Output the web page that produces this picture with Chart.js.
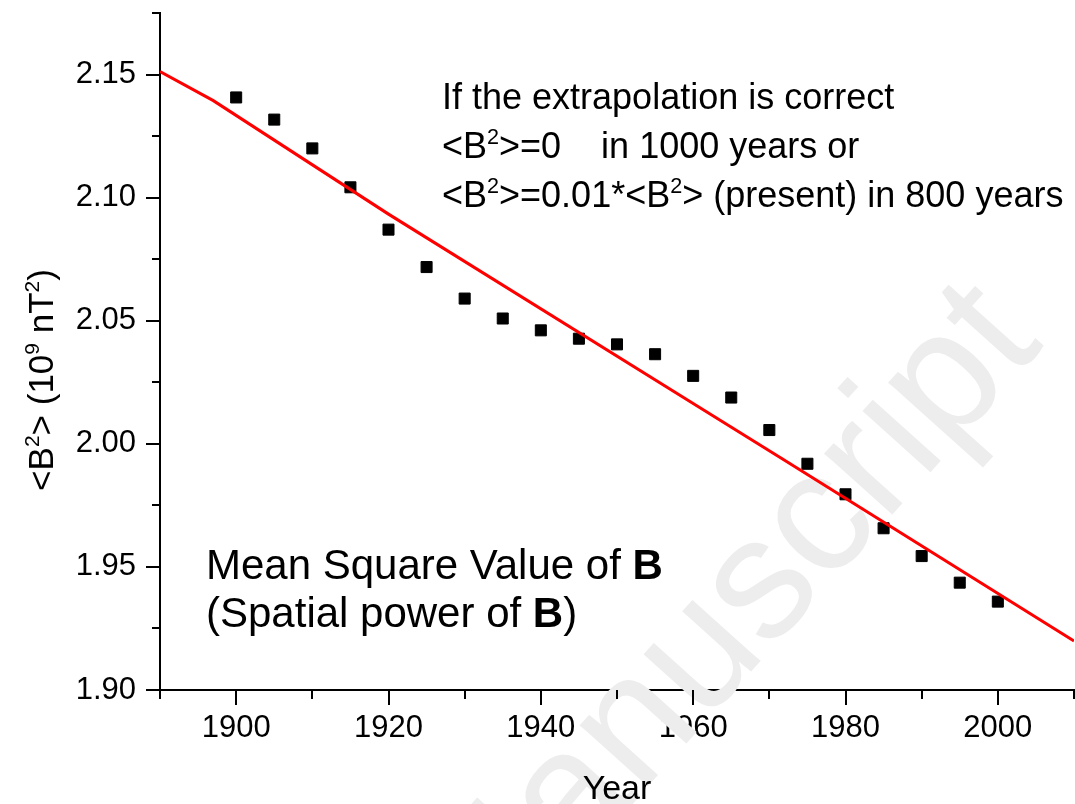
<!DOCTYPE html>
<html>
<head>
<meta charset="utf-8">
<script src="https://cdn.jsdelivr.net/npm/chart.js@4.4.1/dist/chart.umd.min.js"></script>
<style>
  html, body { margin: 0; padding: 0; background: #ffffff; }
  canvas { display: block; }
</style>
</head>
<body>
<canvas id="c" width="1075" height="804"></canvas>
<script>
// ---- data ----
const years = [1900, 1905, 1910, 1915, 1920, 1925, 1930, 1935, 1940, 1945, 1950,
               1955, 1960, 1965, 1970, 1975, 1980, 1985, 1990, 1995, 2000];
const meanSquareB = [2.1407, 2.1317, 2.1200, 2.1042, 2.0870, 2.0718, 2.0590, 2.0509, 2.0461, 2.0427, 2.0404,
                     2.0364, 2.0276, 2.0188, 2.0056, 1.9919, 1.9795, 1.9657, 1.9544, 1.9436, 1.9359];
const fitYears = [1890, 1897, 1920, 1960, 1972, 2010];
const fitValues = [2.1512, 2.1394, 2.0933, 2.0164, 1.9933, 1.9199];
const xTickLabels = ['1900', '1920', '1940', '1960', '1980', '2000'];
const yTickLabels = ['1.90', '1.95', '2.00', '2.05', '2.10', '2.15'];
const xTitle = 'Year';
const yTitle = [{t: '<B'}, {t: '2', sup: true}, {t: '> (10'}, {t: '9', sup: true}, {t: ' nT'}, {t: '2', sup: true}, {t: ')'}];
const noteLines = [
  [{t: 'If the extrapolation is correct'}],
  [{t: '<B'}, {t: '2', sup: true}, {t: '>=0    in 1000 years or'}],
  [{t: '<B'}, {t: '2', sup: true}, {t: '>=0.01*<B'}, {t: '2', sup: true}, {t: '> (present) in 800 years'}]
];
const labelLines = [
  [{t: 'Mean Square Value of '}, {t: 'B', bold: true}],
  [{t: '(Spatial power of '}, {t: 'B', bold: true}, {t: ')'}]
];
const watermark = 'Accepted Manuscript';

const FONT = '"Liberation Sans", Arial, Helvetica, sans-serif';

function segFont(s, size) {
  const fs = s.sup ? size * 0.6 : size;
  return (s.bold ? 'bold ' : '') + fs + 'px ' + FONT;
}
function richWidth(ctx, segs, size) {
  let w = 0;
  segs.forEach(s => { ctx.font = segFont(s, size); w += ctx.measureText(s.t).width; });
  return w;
}
function drawRich(ctx, x, y, segs, size) {
  let cx = x;
  segs.forEach(s => {
    ctx.font = segFont(s, size);
    ctx.fillText(s.t, cx, y + (s.sup ? -size * 0.4 : 0));
    cx += ctx.measureText(s.t).width;
  });
}

const watermarkPlugin = {
  id: 'watermark',
  beforeDatasetsDraw(chart) {
    const ctx = chart.ctx;
    ctx.save();
    ctx.translate(1045, 345);
    ctx.rotate(-48 * Math.PI / 180);
    ctx.font = '173px ' + FONT;
    ctx.fillStyle = '#ededed';
    ctx.textAlign = 'right';
    ctx.textBaseline = 'alphabetic';
    ctx.fillText(watermark, 0, 0);
    ctx.restore();
  }
};

const decorPlugin = {
  id: 'decor',
  afterDraw(chart) {
    const ctx = chart.ctx;
    const a = chart.chartArea;
    const xs = chart.scales.x, ys = chart.scales.y;
    ctx.save();
    ctx.strokeStyle = '#000';
    ctx.lineWidth = 2;
    ctx.beginPath();
    xs.ticks.forEach(t => {
      const px = Math.round(xs.getPixelForValue(t.value));
      const major = xTickLabels.includes(String(t.value));
      ctx.moveTo(px, a.bottom);
      ctx.lineTo(px, a.bottom + (major ? 15 : 9));
    });
    ys.ticks.forEach(t => {
      const py = Math.round(ys.getPixelForValue(t.value));
      const major = yTickLabels.some(l => Math.abs(parseFloat(l) - t.value) < 1e-6);
      ctx.moveTo(a.left, py);
      ctx.lineTo(a.left - (major ? 14 : 8), py);
    });
    ctx.stroke();

    ctx.fillStyle = '#000';
    ctx.textAlign = 'left';
    ctx.textBaseline = 'alphabetic';
    // y axis title (rotated)
    ctx.save();
    ctx.translate(53, 380);
    ctx.rotate(-Math.PI / 2);
    const w = richWidth(ctx, yTitle, 35);
    drawRich(ctx, -w / 2, 0, yTitle, 35);
    ctx.restore();

    // x axis title
    ctx.font = '34px ' + FONT;
    ctx.textAlign = 'center';
    ctx.fillText(xTitle, (a.left + a.right) / 2, 799);
    ctx.textAlign = 'left';

    // notes
    noteLines.forEach((line, i) => drawRich(ctx, 442, 109 + i * 49, line, 36));
    labelLines.forEach((line, i) => drawRich(ctx, 206, 579 + i * 48, line, 42));
    ctx.restore();
  }
};

const isLabelValue = (v, labels) => labels.some(l => Math.abs(parseFloat(l) - v) < 1e-6);

new Chart(document.getElementById('c'), {
  data: {
    datasets: [
      {
        type: 'line',
        data: fitYears.map((x, i) => ({x: x, y: fitValues[i]})),
        borderColor: '#ff0000',
        borderWidth: 3,
        pointRadius: 0,
        tension: 0,
        fill: false
      },
      {
        type: 'scatter',
        data: years.map((x, i) => ({x: x, y: meanSquareB[i]})),
        pointStyle: 'rect',
        pointRadius: 7.8,
        backgroundColor: '#000000',
        borderColor: '#000000',
        borderWidth: 1
      }
    ]
  },
  options: {
    responsive: false,
    animation: false,
    devicePixelRatio: 1,
    layout: { autoPadding: false, padding: { left: 0, right: 1, top: 13, bottom: 0 } },
    plugins: { legend: { display: false }, tooltip: { enabled: false } },
    scales: {
      x: {
        type: 'linear',
        min: 1890, max: 2010,
        ticks: {
          stepSize: 10, autoSkip: false, maxRotation: 0, padding: 5,
          color: '#000', font: { size: 31, family: FONT },
          callback: v => isLabelValue(v, xTickLabels) ? String(v) : ''
        },
        grid: { display: true, drawOnChartArea: false, drawTicks: true, tickLength: 15, color: 'rgba(0,0,0,0)', tickColor: 'rgba(0,0,0,0)' },
        border: { display: true, color: '#000', width: 2 },
        title: { display: false },
        afterFit: s => { s.height = 114; s.paddingLeft = 0; s.paddingRight = 0; }
      },
      y: {
        type: 'linear',
        min: 1.9, max: 2.175,
        ticks: {
          stepSize: 0.025, autoSkip: false, padding: 10,
          color: '#000', font: { size: 31, family: FONT },
          callback: v => isLabelValue(v, yTickLabels) ? v.toFixed(2) : ''
        },
        grid: { display: true, drawOnChartArea: false, drawTicks: true, tickLength: 14, color: 'rgba(0,0,0,0)', tickColor: 'rgba(0,0,0,0)' },
        border: { display: true, color: '#000', width: 2 },
        afterFit: s => { s.width = 160; s.paddingTop = 0; s.paddingBottom = 0; }
      }
    }
  },
  plugins: [watermarkPlugin, decorPlugin]
});
</script>
</body>
</html>
